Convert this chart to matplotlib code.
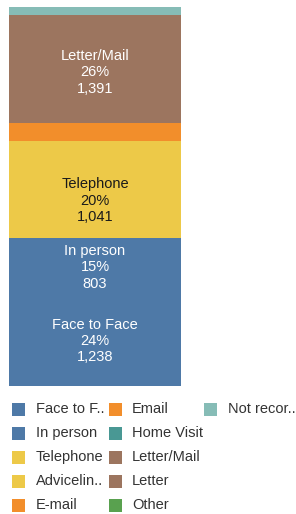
import matplotlib
matplotlib.use("Agg")
import matplotlib.pyplot as plt
from matplotlib.patches import Rectangle

plt.rcParams['font.family'] = ['Liberation Sans', 'DejaVu Sans']

categories = ["Face to Face", "In person", "Telephone", "Adviceline", "E-mail", "Email",
              "Home Visit", "Letter/Mail", "Letter", "Other", "Not recorded"]
legend_labels = ["Face to F..", "In person", "Telephone", "Advicelin..", "E-mail", "Email",
                 "Home Visit", "Letter/Mail", "Letter", "Other", "Not recor.."]
values = [1238, 803, 1041, 298, 170, 80, 10, 1391, 90, 10, 107]
percent_labels = ["24%", "15%", "20%", "", "", "", "", "26%", "", "", ""]
colors = ["#4e79a7", "#4e79a7", "#edc948", "#edc948", "#f28e2b", "#f28e2b",
          "#499894", "#9c755f", "#9c755f", "#59a14f", "#86bcb6"]
text_colors = ["white", "white", "#1a1a1a", None, None, None, None, "white", None, None, None]

W, H = 296, 514
fig = plt.figure(figsize=(W / 100, H / 100), dpi=100)
ax = fig.add_axes([9 / W, 1 - 386 / H, 172 / W, 379 / H])

total = sum(values)
bottom = 0
for cat, v, c, pl, tc in zip(categories, values, colors, percent_labels, text_colors):
    ax.bar(0, v, bottom=bottom, width=1.0, color=c, linewidth=0)
    if pl:
        ax.text(0, bottom + v / 2, f"{cat}\n{pl}\n{v:,}", ha="center", va="center",
                multialignment="center", fontsize=10.5, color=tc, linespacing=1.2)
    bottom += v

ax.set_xlim(-0.5, 0.5)
ax.set_ylim(0, total)
ax.axis("off")

# legend, column-major, 5 rows
col_sq_x = [12, 109, 204]
col_tx_x = [36, 132, 228]
row_y = [409, 433, 457, 481, 505]
sq = 13
for i, (lab, c) in enumerate(zip(legend_labels, colors)):
    col, row = divmod(i, 5)
    x0 = col_sq_x[col]
    yc = row_y[row]
    fig.patches.append(Rectangle((x0 / W, 1 - (yc + sq / 2) / H), sq / W, sq / H,
                                 transform=fig.transFigure, facecolor=c, edgecolor="none"))
    fig.text(col_tx_x[col] / W, 1 - yc / H, lab, ha="left", va="center",
             fontsize=10.5, color="#333333")

fig.savefig("out.png", dpi=100)
